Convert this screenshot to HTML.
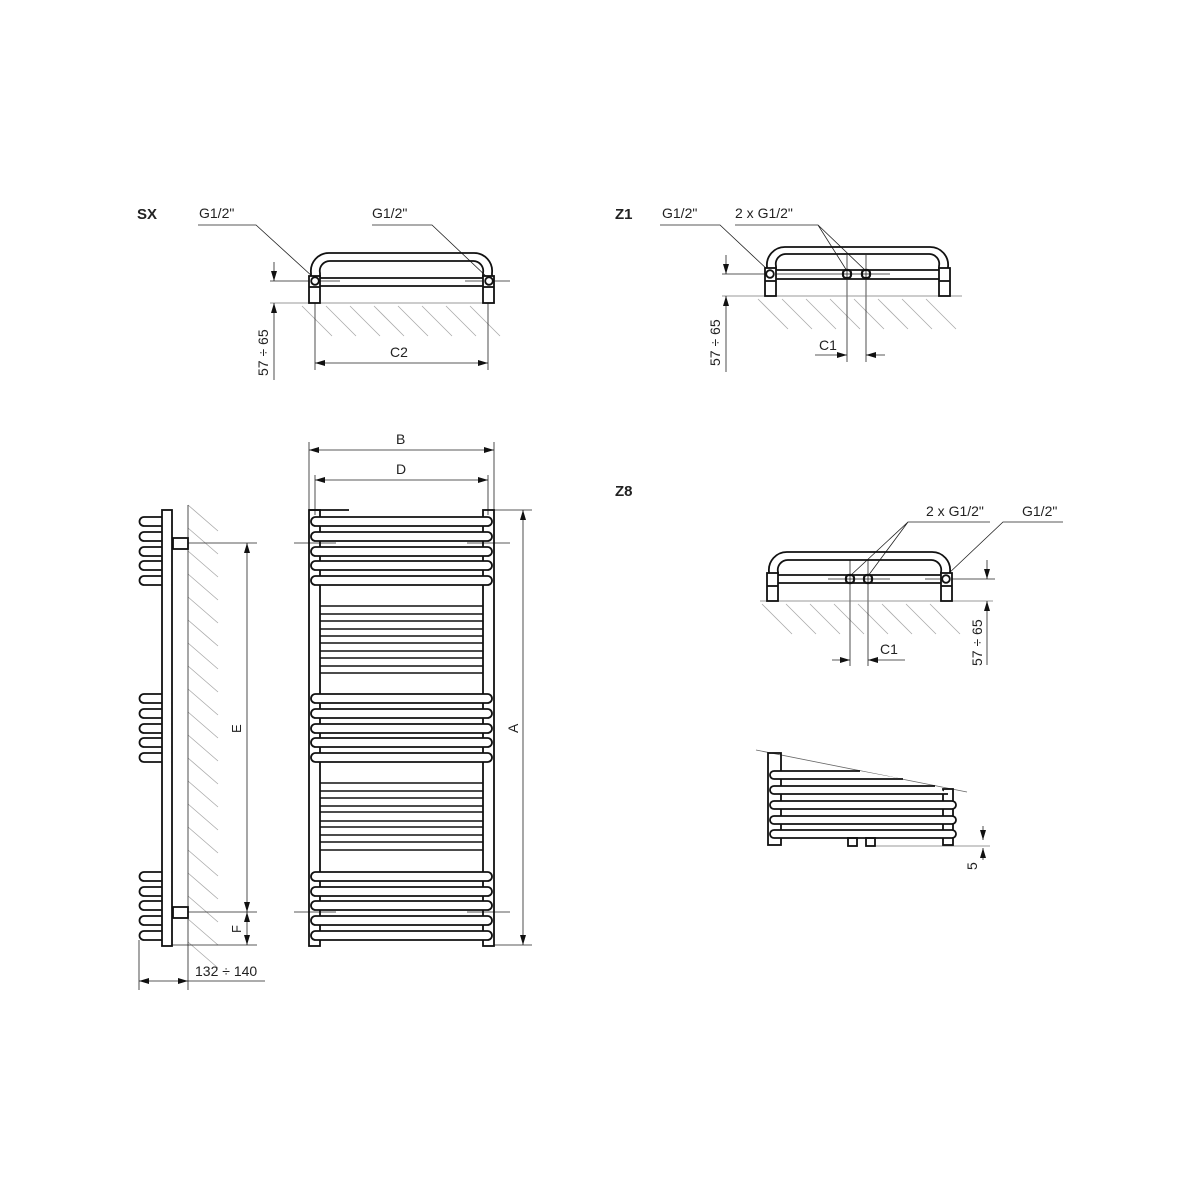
<!DOCTYPE html>
<html><head><meta charset="utf-8"><style>
html,body{margin:0;padding:0;background:#fff;}
svg{display:block;}
text{font-family:"Liberation Sans",sans-serif;fill:#222;}
</style></head><body>
<svg id="s" width="1200" height="1200" viewBox="0 0 1200 1200" xmlns="http://www.w3.org/2000/svg">
<defs>
<marker id="ar" viewBox="0 0 10 6" refX="10" refY="3" markerWidth="10" markerHeight="6" markerUnits="userSpaceOnUse" orient="auto-start-reverse"><path d="M0,0 L10,3 L0,6z" fill="#111"/></marker>
</defs>
<rect width="1200" height="1200" fill="#fff"/>
<g id="hatch" stroke="#aaa" stroke-width="0.8"></g>
<g id="thin" stroke="#222" stroke-width="0.8" fill="none"></g>
<g id="thick" stroke="#111" stroke-width="1.8" fill="none"></g>

<text x="137" y="219" font-size="15" font-weight="bold" font-family="DejaVu Sans,sans-serif">SX</text>
<text x="615" y="219" font-size="15" font-weight="bold" font-family="DejaVu Sans,sans-serif">Z1</text>
<text x="615" y="496" font-size="15" font-weight="bold" font-family="DejaVu Sans,sans-serif">Z8</text>
<text x="199" y="218" font-size="14">G1/2"</text>
<text x="372" y="218" font-size="14">G1/2"</text>
<text x="390" y="357" font-size="14">C2</text>
<text x="268" y="376" font-size="14" transform="rotate(-90 268 376)">57 ÷ 65</text>
<text x="662" y="218" font-size="14">G1/2"</text>
<text x="735" y="218" font-size="14">2 x G1/2"</text>
<text x="819" y="350" font-size="14">C1</text>
<text x="720" y="366" font-size="14" transform="rotate(-90 720 366)">57 ÷ 65</text>
<text x="926" y="516" font-size="14">2 x G1/2"</text>
<text x="1022" y="516" font-size="14">G1/2"</text>
<text x="880" y="654" font-size="14">C1</text>
<text x="982" y="666" font-size="14" transform="rotate(-90 982 666)">57 ÷ 65</text>
<text x="977" y="870" font-size="14" transform="rotate(-90 977 870)">5</text>
<text x="396" y="444" font-size="14">B</text>
<text x="396" y="474" font-size="14">D</text>
<text x="518" y="733" font-size="14" transform="rotate(-90 518 733)">A</text>
<text x="241" y="733" font-size="13" transform="rotate(-90 241 733)">E</text>
<text x="241" y="933" font-size="13" transform="rotate(-90 241 933)">F</text>
<text x="195" y="976" font-size="14">132 ÷ 140</text>
</svg>
<script>
const NS="http://www.w3.org/2000/svg";
function add(g,tag,attrs){const e=document.createElementNS(NS,tag);for(const k in attrs)e.setAttribute(k,attrs[k]);document.getElementById(g).appendChild(e);return e;}
function L(g,x1,y1,x2,y2,extra){return add(g,'line',Object.assign({x1,y1,x2,y2},extra||{}));}
function R(g,x,y,w,h){return add(g,'rect',{x,y,width:w,height:h});}
function P(g,d,extra){return add(g,'path',Object.assign({d},extra||{}));}
function dim(x1,y1,x2,y2,both){const e=L('thin',x1,y1,x2,y2,{'marker-end':'url(#ar)'});if(both!==false)e.setAttribute('marker-start','url(#ar)');}

R('thick',162,510,10,436);
function sideLoops(ys){ys.forEach(y=>P('thick',`M162 ${y} H144 A4.5 4.5 0 0 0 144 ${y+9} H162`));}
sideLoops([517,532,547,561,576]);
sideLoops([694,709,724,738,753]);
sideLoops([872,887,901,916,931]);
R('thick',173,538,15,11);R('thick',173,907,15,11);
L('thin',188,505,188,990);
for(let y=505;y<945;y+=23)L('hatch',188,y,218,y+26);
L('thin',188,543,257,543);L('thin',188,912,257,912);L('thin',172,945,257,945);
dim(247,543,247,912);dim(247,912,247,945);
L('thin',139,940,139,990);
dim(139,981,188,981);L('thin',188,981,265,981);

R('thick',309,510,11,436);R('thick',483,510,11,436);
L('thick',309,510,349,510);
function pills(ys){ys.forEach(y=>add('thick','rect',{x:311,y:y,width:181,height:9,rx:4.5,ry:4.5,fill:'#fff'}));}
pills([517,532,547,561,576]);pills([694,709,724,738,753]);pills([872,887,901,916,931]);
[606,614,621,629,636,643,651,658,666,673,783,791,798,806,812,821,827,835,842,850].forEach(y=>L('thick',320,y,483,y,{'stroke-width':1.5}));
[543,912].forEach(y=>{L('thin',294,y,336,y);L('thin',467,y,510,y);});
dim(523,510,523,945);L('thin',494,510,532,510);L('thin',494,945,532,945);
L('thin',309,442,309,520);L('thin',494,442,494,520);
dim(309,450,494,450);
L('thin',315,475,315,515);L('thin',488,475,488,515);
dim(315,480,488,480);

function topView(o){
  const {xl,xr,ot,it,bt,bb,yc,yf,lb,rb}=o;
  P('thick',`M${xl+2} ${bt} V${ot+20} A18 18 0 0 1 ${xl+20} ${ot} H${xr-20} A18 18 0 0 1 ${xr-2} ${ot+20} V${bt}`);
  P('thick',`M${xl+11} ${bt} V${it+12} A10 10 0 0 1 ${xl+21} ${it} H${xr-21} A10 10 0 0 1 ${xr-11} ${it+12} V${bt}`);
  L('thick',xl+11,bt,xr-11,bt);L('thick',xl+11,bb,xr-11,bb);
  add('thick','rect',{x:xl,y:lb,width:11,height:yf-lb,fill:'#fff'});
  add('thick','rect',{x:xr-11,y:rb,width:11,height:yf-rb,fill:'#fff'});
}
topView({xl:309,xr:494,ot:253,it:261,bt:278,bb:286,yc:281,yf:303,lb:276,rb:276});
L('thick',309,287,320,287);L('thick',483,287,494,287);
add('thick','circle',{cx:315,cy:281,r:3.8});add('thick','circle',{cx:489,cy:281,r:3.8});
L('thin',270,281,340,281);L('thin',465,281,510,281);
L('thin',270,303,495,303,{stroke:'#777'});
for(let x=302;x<480;x+=24)L('hatch',x,306,x+30,336);
dim(274,262,274,281,false);dim(274,380,274,303,false);
L('thin',315,290,315,370);L('thin',488,290,488,370);
dim(315,363,488,363);
P('thin','M198 225 H256 L313 277');P('thin','M372 225 H432 L488 278');

topView({xl:765,xr:950,ot:247,it:254,bt:270,bb:279,yc:274,yf:296,lb:268,rb:268});
L('thick',765,281,776,281);L('thick',939,281,950,281);
add('thick','circle',{cx:770,cy:274,r:3.8});
[847,866].forEach(x=>{add('thick','rect',{x:x-4,y:270,width:8,height:8,rx:3,'stroke-width':2.2});L('thin',x,255,x,362);});
L('thin',722,274,890,274);
L('thin',722,296,962,296,{stroke:'#777'});
for(let x=758;x<935;x+=24)L('hatch',x,299,x+30,329);
dim(726,255,726,274,false);dim(726,372,726,296,false);
dim(815,355,847,355,false);dim(885,355,866,355,false);
P('thin','M660 225 H720 L769 271');P('thin','M735 225 H818 L847 271 M818 225 L866 271');

topView({xl:767,xr:952,ot:552,it:560,bt:575,bb:583,yc:579,yf:601,lb:573,rb:573});
L('thick',767,586,778,586);L('thick',941,586,952,586);
add('thick','circle',{cx:946,cy:579,r:3.8});
[850,868].forEach(x=>{add('thick','rect',{x:x-4,y:575,width:8,height:8,rx:3,'stroke-width':2.2});L('thin',x,560,x,666);});
L('thin',828,579,890,579);L('thin',925,579,995,579);
L('thin',760,601,993,601,{stroke:'#777'});
for(let x=762;x<940;x+=24)L('hatch',x,604,x+30,634);
dim(987,560,987,579,false);dim(987,665,987,601,false);
dim(832,660,850,660,false);dim(905,660,868,660,false);
P('thin','M990 522 H908 L850 576 M908 522 L868 576');P('thin','M1063 522 H1003 L947 575');

L('thin',756,750,967,792,{stroke:'#666'});
R('thick',768,753,13,92);
R('thick',943,789,10,56);
const lp=[[771,860,903],[786,935,948],[801,952,952],[816,952,952],[830,952,952]];
lp.forEach(([y,t,b])=>{P('thick',`M${t} ${y} H774 A4 4 0 0 0 774 ${y+8} H${b}`+(t>=948?` A4 4 0 0 0 ${b} ${y}`:''),{fill:'#fff'});});
R('thick',848,838,9,8);R('thick',866,838,9,8);
L('thin',875,846,990,846,{stroke:'#777'});
dim(983,826,983,840,false);dim(983,860,983,848,false);
</script>
</body></html>
